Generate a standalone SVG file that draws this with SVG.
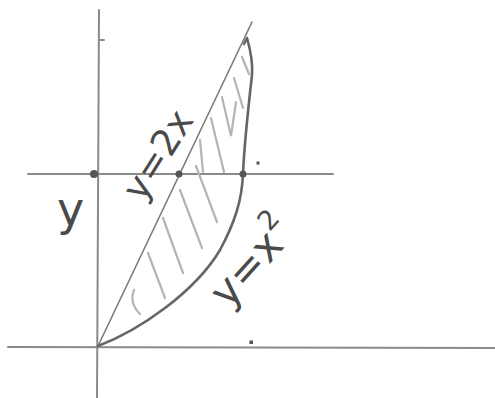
<svg xmlns="http://www.w3.org/2000/svg" width="495" height="398" viewBox="0 0 495 398">
<style>
.ax{stroke:#8a8a8a;stroke-width:2;fill:none;stroke-linecap:round}
.ln{stroke:#7a7a7a;stroke-width:1.6;fill:none;stroke-linecap:round}
.cv{stroke:#666;stroke-width:2.6;fill:none;stroke-linecap:round;stroke-linejoin:round}
.ht{stroke:#b4b4b4;stroke-width:2.2;fill:none;stroke-linecap:round}
.dot{fill:#555}
.lb{font-family:"DejaVu Sans","Liberation Sans",sans-serif;fill:#4a4a4a}
</style>
<rect width="495" height="398" fill="#fff"/>
<g id="axes">
<path class="ax" d="M99,10 L97,398"/>
<path class="ax" d="M99,40 L104,40"/>
<path class="ax" d="M8,347 L495,348"/>
<path class="ax" d="M28,174 L333,174"/>
</g>
<g id="hatch">
<path class="ht" d="M134,290 Q129,303 140,314"/>
<path class="ht" d="M148,253 L165,298"/>
<path class="ht" d="M163,218 L183,273"/>
<path class="ht" d="M180,190 L202,248"/>
<path class="ht" d="M196,166 L217,222"/>
<path class="ht" d="M200,140 L203,172"/>
<path class="ht" d="M211,118 L224,172"/>
<path class="ht" d="M222,97 L231,136 L236,102"/>
<path class="ht" d="M234,78 L243,108"/>
<path class="ht" d="M242,57 L249,74"/>
</g>
<g id="curves">
<path class="ln" d="M98,346 L252,22"/>
<path class="cv" d="M98,346 C140,330 195,292 220,250 C235,222 242,200 243,174 C244,150 248,110 252,75 C253,62 251,52 247,38 L244,44"/>
</g>
<g id="points">
<circle class="dot" cx="94" cy="174" r="4"/>
<circle class="dot" cx="179" cy="174" r="3.5"/>
<circle class="dot" cx="243" cy="174" r="3.5"/>
<rect class="dot" x="256.5" y="161.5" width="3" height="3"/>
<rect class="dot" x="249.5" y="340.5" width="3.5" height="3.5"/>
</g>
<g id="labels">
<text class="lb" x="57" y="225" font-size="46">y</text>
<text class="lb" x="158" y="155" font-size="37" text-anchor="middle" dominant-baseline="central" transform="rotate(-58 158 155)">y=2x</text>
<text class="lb" x="252" y="262" font-size="42" text-anchor="middle" dominant-baseline="central" transform="rotate(-48 252 262)">y=x<tspan font-size="27" dy="-17">2</tspan></text>
</g>
</svg>
